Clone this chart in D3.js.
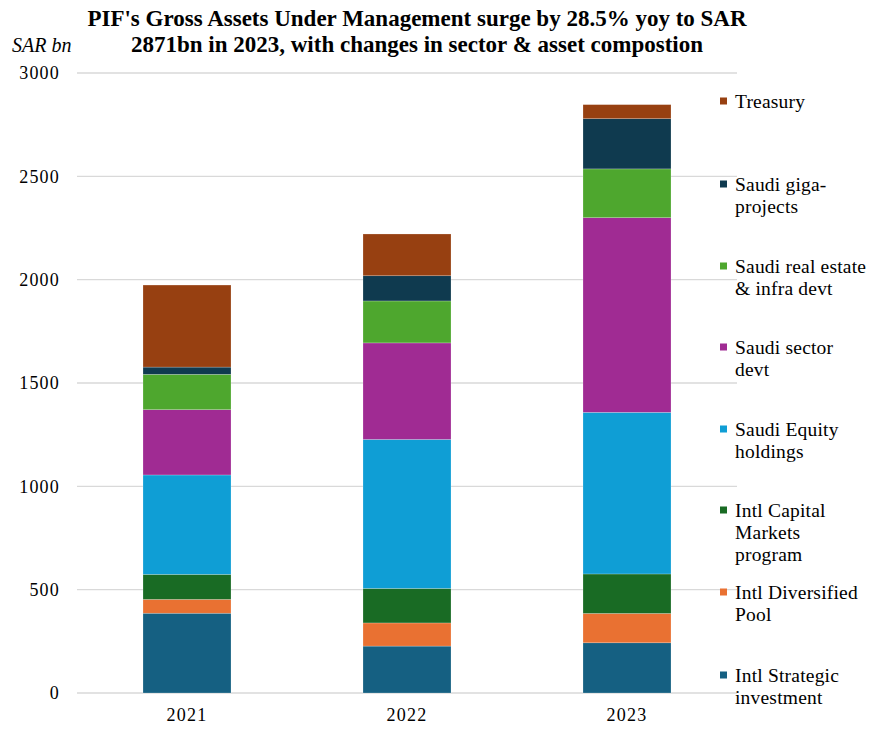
<!DOCTYPE html>
<html><head><meta charset="utf-8">
<script src="https://cdn.jsdelivr.net/npm/d3@7"></script>
<style>body{margin:0;background:#fff}</style>
</head><body><svg id="c" width="876" height="736"></svg>
<script>
const years = ["2021", "2022", "2023"];
const seriesNames = ["Intl Strategic investment", "Intl Diversified Pool", "Intl Capital Markets program", "Saudi Equity holdings", "Saudi sector devt", "Saudi real estate & infra devt", "Saudi giga-projects", "Treasury"];
const intlStrategic = [386, 227, 243];
const intlDiversified = [67, 112, 142];
const intlCapitalMarkets = [121, 167, 191];
const saudiEquity = [481, 721, 782];
const saudiSector = [316, 467, 942];
const saudiRealEstate = [171, 203, 236];
const saudiGiga = [35, 122, 243];
const treasury = [397, 202, 68];
const yTicks = [0, 500, 1000, 1500, 2000, 2500, 3000];
const colors = ["#156082", "#e97132", "#196b24", "#0f9ed5", "#a02b93", "#4ea72e", "#0f3a4f", "#974011"];
const legendLines = [["Intl Strategic", "investment"], ["Intl Diversified", "Pool"], ["Intl Capital", "Markets", "program"], ["Saudi Equity", "holdings"], ["Saudi sector", "devt"], ["Saudi real estate", "& infra devt"], ["Saudi giga-", "projects"], ["Treasury"]];
const titleLines = ["PIF's Gross Assets Under Management surge by 28.5% yoy to SAR", "2871bn in 2023, with changes in sector & asset compostion"];

const seriesValues = [intlStrategic, intlDiversified, intlCapitalMarkets, saudiEquity, saudiSector, saudiRealEstate, saudiGiga, treasury];
const table = years.map((y, i) => {
  const row = { year: y };
  seriesNames.forEach((n, k) => row[n] = seriesValues[k][i]);
  return row;
});

const svg = d3.select("#c");
const font = "'Liberation Serif','Times New Roman',Times,serif";
const x = d3.scaleBand().domain(years).range([77, 737]).paddingInner(0.6).paddingOuter(0.3);
const y = d3.scaleLinear().domain([0, 3000]).range([693, 73]);
const color = d3.scaleOrdinal().domain(seriesNames).range(colors);

// gridlines
svg.append("g").selectAll("line").data(yTicks).join("line")
  .attr("x1", 77).attr("x2", 737)
  .attr("y1", d => y(d)).attr("y2", d => y(d))
  .attr("stroke", "#d9d9d9").attr("stroke-width", 1.3);

// y axis labels
const yAxis = d3.axisLeft(y).tickValues(yTicks).tickFormat(d3.format("d")).tickSize(0).tickPadding(0);
const ya = svg.append("g").attr("transform", "translate(60,0)").call(yAxis);
ya.select(".domain").remove();
ya.selectAll("text").attr("font-family", font).attr("font-size", 18).attr("letter-spacing", 1.2).attr("fill", "#000");

// x axis labels
const xAxis = d3.axisBottom(x).tickSize(0).tickPadding(0);
const xa = svg.append("g").attr("transform", "translate(0,708)").call(xAxis);
xa.select(".domain").remove();
xa.selectAll("text").attr("font-family", font).attr("font-size", 18).attr("letter-spacing", 1.2).attr("fill", "#000");

// bars
const stack = d3.stack().keys(seriesNames)(table);
svg.append("g").selectAll("g").data(stack).join("g")
  .attr("fill", d => color(d.key))
  .selectAll("rect").data(d => d).join("rect")
  .attr("x", d => x(d.data.year))
  .attr("width", x.bandwidth())
  .attr("y", d => y(d[1]))
  .attr("height", d => y(d[0]) - y(d[1]))
  .attr("stroke", "rgba(255,255,255,0.35)").attr("stroke-width", 0.6);

// title
svg.append("g").selectAll("text").data(titleLines).join("text")
  .attr("x", 417).attr("y", (d, i) => 18 + i * 26).attr("dy", "0.35em")
  .attr("text-anchor", "middle").attr("font-family", font)
  .attr("font-weight", "bold").attr("font-size", 23).text(d => d);

svg.append("text").attr("x", 12).attr("y", 45).attr("dy", "0.35em")
  .attr("font-family", font).attr("font-style", "italic").attr("font-size", 20).text("SAR bn");

// legend
const legendY = [101, 184, 266, 347, 429, 510, 592, 675];
const legendOrder = seriesNames.slice().reverse();
const lg = svg.append("g").selectAll("g").data(legendOrder).join("g")
  .attr("transform", (d, i) => `translate(720,${legendY[i]})`);
lg.append("rect").attr("x", 0).attr("y", -3.5).attr("width", 7).attr("height", 7).attr("fill", d => color(d));
lg.each(function (d) {
  const lines = legendLines[seriesNames.indexOf(d)];
  d3.select(this).selectAll("text").data(lines).join("text")
    .attr("x", 15).attr("y", (l, j) => j * 22).attr("dy", "0.35em")
    .attr("font-family", font).attr("font-size", 19.5).attr("letter-spacing", 0.2).text(l => l);
});
</script></body></html>
